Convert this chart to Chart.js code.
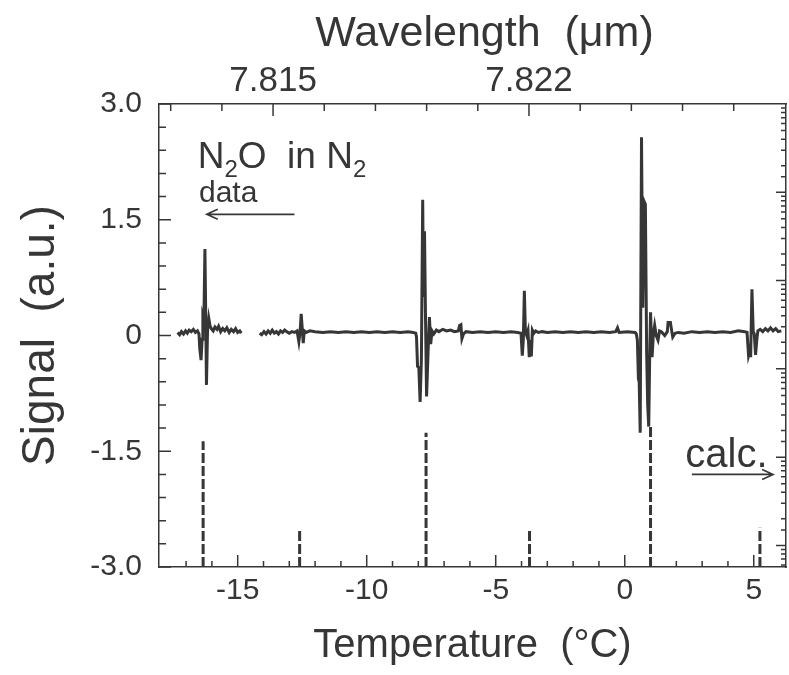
<!DOCTYPE html>
<html>
<head>
<meta charset="utf-8">
<script src="https://cdn.jsdelivr.net/npm/chart.js@4.4.0/dist/chart.umd.min.js"></script>
<style>
  html, body { margin: 0; padding: 0; background: #fff; }
  #wrap { width: 789px; height: 675px; }
</style>
</head>
<body>
<div id="wrap"><canvas id="chart_signal"></canvas></div>
<script>
// measured trace (temperature in °C, signal in a.u.); null = gap in the scan
const traceTemp = [
  -17.33, -17.25, -17.18, -17.10, -17.02, -16.95, -16.88, -16.80, -16.72, -16.64,
  -16.56, -16.50, -16.47, -16.42, -16.38, -16.35, -16.31, -16.27, -16.24, -16.21,
  -16.17, -16.12, -16.07, -16.02, -15.95, -15.88, -15.80, -15.74, -15.66, -15.58,
  -15.50, -15.42, -15.33, -15.25, -15.16, -15.08, -15.00, -14.92, -14.86, -14.50,
  -14.15, -14.07, -13.98, -13.90, -13.82, -13.74, -13.66, -13.58, -13.50, -13.42,
  -13.34, -13.26, -13.18, -13.10, -13.00, -12.90, -12.80, -12.70, -12.63, -12.58,
  -12.54, -12.50, -12.46, -12.42, -12.35, -12.20, -12.00, -11.70, -11.40, -11.10,
  -10.80, -10.50, -10.20, -9.90, -9.60, -9.30, -9.00, -8.70, -8.40, -8.20,
  -8.10, -8.07, -8.03, -7.98, -7.93, -7.88, -7.83, -7.80, -7.76, -7.72,
  -7.68, -7.62, -7.57, -7.52, -7.47, -7.40, -7.30, -7.20, -7.05, -6.90,
  -6.75, -6.60, -6.45, -6.40, -6.35, -6.31, -6.25, -6.15, -5.90, -5.60,
  -5.30, -5.00, -4.70, -4.40, -4.15, -4.02, -3.97, -3.93, -3.89, -3.85,
  -3.80, -3.75, -3.70, -3.66, -3.62, -3.58, -3.52, -3.45, -3.35, -3.20,
  -3.00, -2.70, -2.40, -2.10, -1.80, -1.50, -1.20, -0.90, -0.60, -0.35,
  -0.28, -0.22, 0.10, 0.40, 0.45, 0.49, 0.53, 0.56, 0.60, 0.65,
  0.70, 0.75, 0.80, 0.85, 0.89, 0.93, 0.97, 1.00, 1.06, 1.11,
  1.16, 1.22, 1.29, 1.35, 1.42, 1.55, 1.65, 1.68, 1.77, 1.82,
  1.86, 1.95, 2.07, 2.30, 2.60, 2.90, 3.20, 3.50, 3.80, 4.10,
  4.40, 4.65, 4.74, 4.80, 4.85, 4.88, 4.93, 4.98, 5.02, 5.07,
  5.12, 5.16, 5.25, 5.35, 5.45, 5.55, 5.65, 5.75, 5.85, 5.95,
  6.07
];
const traceSignal = [
  0.04, 0.01, 0.05, 0.02, 0.06, 0.03, 0.07, 0.05, 0.08, 0.04,
  0.06, 0.02, -0.17, -0.32, -0.05, 0.25, 0.20, 1.12, 0.30, -0.64,
  0.05, 0.22, 0.12, 0.09, 0.06, 0.11, 0.08, 0.12, 0.05, 0.09,
  0.06, 0.10, 0.04, 0.08, 0.05, 0.09, 0.04, 0.06, 0.03, null,
  0.03, 0.01, 0.05, 0.02, 0.06, 0.03, 0.07, 0.03, 0.05, 0.02,
  0.06, 0.04, 0.07, 0.05, 0.03, 0.05, 0.04, 0.06, -0.08, 0.05,
  0.28, 0.10, -0.10, 0.06, 0.04, 0.06, 0.05, 0.04, 0.05, 0.04,
  0.05, 0.04, 0.05, 0.04, 0.05, 0.04, 0.05, 0.04, 0.05, 0.04,
  0.03, -0.02, -0.40, -0.42, -0.86, -0.30, 1.76, 0.50, 1.35, 0.20,
  -0.79, -0.20, 0.24, -0.11, 0.06, 0.02, 0.07, 0.05, 0.08, 0.06,
  0.07, 0.05, 0.06, 0.13, 0.14, -0.04, 0.02, 0.05, 0.04, 0.05,
  0.04, 0.05, 0.04, 0.05, 0.04, 0.03, -0.26, -0.05, 0.58, 0.05,
  0.00, 0.06, -0.28, -0.06, -0.27, 0.07, 0.03, 0.06, 0.04, 0.05,
  0.04, 0.05, 0.04, 0.05, 0.04, 0.05, 0.04, 0.05, 0.04, 0.05,
  0.10, 0.04, 0.05, 0.04, 0.02, -0.06, -0.56, -0.60, -1.26, 2.57,
  0.36, 1.74, 1.70, -0.24, -0.90, -1.18, -0.20, 0.30, -0.28, 0.02,
  0.13, 0.00, -0.06, 0.06, 0.05, 0.00, 0.05, 0.17, 0.17, 0.06,
  -0.02, 0.03, 0.04, 0.03, 0.05, 0.04, 0.05, 0.04, 0.05, 0.04,
  0.06, 0.05, 0.04, -0.26, -0.20, -0.28, 0.60, 0.05, 0.02, -0.25,
  -0.05, 0.06, 0.08, 0.05, 0.09, 0.06, 0.10, 0.06, 0.09, 0.05,
  0.06
];

// calculated line positions and the height they reach on the signal axis
const calcTemp = [-16.34, -12.60, -7.70, -3.69, 1.00, 5.24];
const calcSignal = [-1.37, -2.53, -1.26, -2.51, -1.18, -2.49];

// tick labels
const tempTickLabels = [-15, -10, -5, 0, 5];
const signalTickLabels = [3.0, 1.5, 0, -1.5, -3.0];
const wavelengthTicks = [7.8122, 7.8136, 7.8150, 7.8164, 7.8178, 7.8192, 7.8206, 7.8220, 7.8234, 7.8248, 7.8262, 7.8276];
const wavelengthLabels = [7.815, 7.822];

const INK = '#363636';
const FONT = 'Liberation Sans, Arial, sans-serif';

document.addEventListener('DOMContentLoaded', function () {
    const ctx = document.getElementById('chart_signal');

    const near = (list, v) => list.some(w => Math.abs(w - v) < 1e-6);

    const traceData = traceTemp.map((t, i) => ({ x: t, y: traceSignal[i] }));
    const calcData = [];
    calcTemp.forEach((t, i) => {
        calcData.push({ x: t, y: -3 }, { x: t, y: calcSignal[i] }, { x: t, y: null });
    });

    // tick marks pointing into the plot, longer on labelled values
    const innerTicks = {
        id: 'innerTicks',
        afterDatasetsDraw(chart) {
            const { ctx, chartArea: a, scales } = chart;
            ctx.save();
            ctx.strokeStyle = INK;
            ctx.lineWidth = 1.5;
            ctx.beginPath();
            scales.x.ticks.forEach(t => {
                if (Math.abs(t.value - Math.round(t.value)) > 1e-6) return;
                const px = scales.x.getPixelForValue(t.value);
                const len = near(tempTickLabels, t.value) ? 12 : 6;
                ctx.moveTo(px, a.bottom); ctx.lineTo(px, a.bottom - len);
            });
            scales.xTop.ticks.forEach(t => {
                const px = scales.xTop.getPixelForValue(t.value);
                const len = near(wavelengthLabels, t.value) ? 12 : 7;
                ctx.moveTo(px, a.top); ctx.lineTo(px, a.top + len);
            });
            scales.y.ticks.forEach(t => {
                const py = scales.y.getPixelForValue(t.value);
                const len = near(signalTickLabels, t.value) ? 12 : 7;
                ctx.moveTo(a.left, py); ctx.lineTo(a.left + len, py);
            });
            scales.yCalc.ticks.forEach(t => {
                const py = scales.yCalc.getPixelForValue(t.value);
                if (py < a.top + 1 || py > a.bottom - 1) return;
                const len = t.major ? 10 : 5;
                ctx.moveTo(a.right, py); ctx.lineTo(a.right - len, py);
            });
            ctx.stroke();
            ctx.restore();
        }
    };

    // text labels inside the plot
    const notes = {
        id: 'notes',
        afterDatasetsDraw(chart) {
            const { ctx, scales } = chart;
            const X = v => scales.x.getPixelForValue(v);
            const Y = v => scales.y.getPixelForValue(v);
            ctx.save();
            ctx.fillStyle = INK;
            ctx.strokeStyle = INK;
            ctx.textBaseline = 'alphabetic';

            // N2O in N2
            let x = X(-16.55);
            const base = Y(2.17);
            const big = '37px ' + FONT, sub = '24px ' + FONT;
            const put = (txt, font, dy) => {
                ctx.font = font;
                ctx.fillText(txt, x, base + dy);
                x += ctx.measureText(txt).width;
            };
            put('N', big, 0); put('2', sub, 9); put('O  in N', big, 0); put('2', sub, 9);

            ctx.font = '30px ' + FONT;
            ctx.fillText('data', X(-16.5), Y(1.73));

            ctx.font = '40px ' + FONT;
            ctx.fillText('calc.', X(2.35), Y(-1.7));

            const arrow = (x1, x2, y, dir) => {
                ctx.lineWidth = 1.6;
                ctx.beginPath();
                ctx.moveTo(x1, y); ctx.lineTo(x2, y);
                const tip = dir < 0 ? x1 : x2;
                ctx.moveTo(tip - dir * 11, y - 5); ctx.lineTo(tip, y); ctx.lineTo(tip - dir * 11, y + 5);
                ctx.stroke();
            };
            arrow(X(-16.2), X(-12.8), Y(1.57), -1);
            arrow(X(2.6), X(5.75), Y(-1.8), 1);
            ctx.restore();
        }
    };

    const config = {
        type: 'line',
        data: {
            datasets: [
                {
                    label: 'data',
                    data: traceData,
                    borderColor: INK,
                    borderWidth: 3,
                    pointRadius: 0,
                    tension: 0,
                    spanGaps: false,
                    xAxisID: 'x',
                    yAxisID: 'y',
                },
                {
                    label: 'calc.',
                    data: calcData,
                    borderColor: INK,
                    borderWidth: 3,
                    borderDash: [10, 3],
                    pointRadius: 0,
                    tension: 0,
                    spanGaps: false,
                    xAxisID: 'x',
                    yAxisID: 'y',
                },
            ]
        },
        options: {
            animation: false,
            responsive: true,
            maintainAspectRatio: false,
            devicePixelRatio: 1,
            layout: { padding: 0 },
            plugins: {
                legend: { display: false },
                tooltip: { enabled: false },
            },
            scales: {
                x: {
                    type: 'linear',
                    position: 'bottom',
                    min: -18.05,
                    max: 6.25,
                    grid: { display: false, drawTicks: false },
                    border: { display: true, color: INK, width: 1.5 },
                    ticks: {
                        stepSize: 1,
                        autoSkip: false,
                        maxRotation: 0,
                        padding: 2,
                        color: INK,
                        font: { family: FONT, size: 30, lineHeight: 1.47 },
                        callback: v => near(tempTickLabels, v) ? String(Math.round(v)) : '',
                    },
                    title: {
                        display: true,
                        text: 'Temperature  (°C)',
                        color: INK,
                        font: { family: FONT, size: 40 },
                        padding: { top: 0, bottom: 5 },
                    },
                    afterFit: s => { s.height = 108; },
                },
                xTop: {
                    type: 'linear',
                    position: 'top',
                    min: 7.81188,
                    max: 7.82903,
                    grid: { display: false, drawTicks: false },
                    border: { display: true, color: INK, width: 1.5 },
                    afterBuildTicks: s => { s.ticks = wavelengthTicks.map(v => ({ value: v })); },
                    ticks: {
                        autoSkip: false,
                        maxRotation: 0,
                        padding: 2,
                        color: INK,
                        font: { family: FONT, size: 35 },
                        callback: v => near(wavelengthLabels, v) ? v.toFixed(3) : '',
                    },
                    title: {
                        display: true,
                        text: '  Wavelength  (μm)',
                        color: INK,
                        font: { family: FONT, size: 43 },
                        padding: { top: 8, bottom: 0 },
                    },
                    afterFit: s => { s.height = 104; },
                },
                y: {
                    type: 'linear',
                    position: 'left',
                    min: -3,
                    max: 3,
                    grid: { display: false, drawTicks: false },
                    border: { display: true, color: INK, width: 1.5 },
                    ticks: {
                        stepSize: 0.3,
                        autoSkip: false,
                        padding: 17,
                        color: INK,
                        font: { family: FONT, size: 30 },
                        callback: v => near(signalTickLabels, v) ? (Math.abs(v) < 1e-6 ? '0' : v.toFixed(1)) : '',
                    },
                    title: {
                        display: true,
                        text: 'Signal  (a.u.)',
                        color: INK,
                        font: { family: FONT, size: 46 },
                        padding: { top: 14, bottom: 0 },
                    },
                    afterFit: s => { s.width = 159; },
                },
                yCalc: {
                    type: 'logarithmic',
                    position: 'right',
                    min: 0.57,
                    max: 100000,
                    grid: { display: false, drawTicks: false },
                    border: { display: true, color: INK, width: 1.5 },
                    ticks: { display: false },
                    afterFit: s => { s.width = 3; },
                },
            }
        },
        plugins: [innerTicks, notes]
    };

    new Chart(ctx, config);
});
</script>
</body>
</html>
